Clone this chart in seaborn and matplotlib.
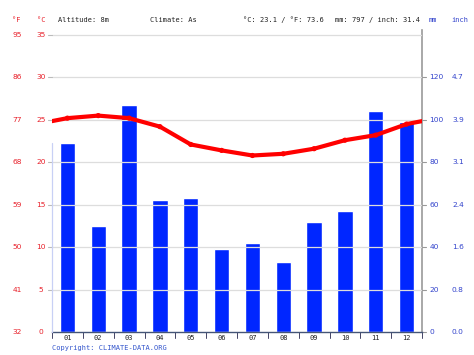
import numpy as np
import pandas as pd
import matplotlib
matplotlib.use("Agg")
import matplotlib.pyplot as plt
import seaborn as sns

months = ["01", "02", "03", "04", "05", "06", "07", "08", "09", "10", "11", "12"]
precip_mm = [89, 50, 107, 62, 63, 39, 42, 33, 52, 57, 104, 99]
temp_c = [25.2, 25.5, 25.2, 24.2, 22.1, 21.4, 20.8, 21.0, 21.6, 22.6, 23.2, 24.5]
c_ticks = [0, 5, 10, 15, 20, 25, 30, 35]
f_labels = ["32", "41", "50", "59", "68", "77", "86", "95"]
mm_ticks = [0, 20, 40, 60, 80, 100, 120]
inch_labels = ["0.0", "0.8", "1.6", "2.4", "3.1", "3.9", "4.7"]

sns.set_style("white")
plt.rcParams['font.family'] = ['DejaVu Sans Mono', 'DejaVu Sans']

fs = 5.0      # small header / label font
fs_num = 5.4  # axis numbers

fig = plt.figure(figsize=(4.74, 3.55), dpi=100)
ax = fig.add_axes([52/474, 23/355, 370/474, 302.1/355])

# precipitation bars (mm axis, 4 mm per degree)
df = pd.DataFrame({"month": months, "mm": precip_mm})
sns.barplot(data=df, x="month", y="mm", ax=ax, color="#0026ff", width=0.5,
            saturation=1, zorder=2)
ax.set_ylim(0, 35.6 * 4)
ax.set_xlim(-0.5, 11.5)

# temperature on twin axis, wrapped at the edges
ax2 = ax.twinx()
ax2.set_ylim(0, 35.6)
edge = (temp_c[0] + temp_c[-1]) / 2
xs = np.r_[-0.5, np.arange(12), 11.5]
ys = np.r_[edge, temp_c, edge]
sns.lineplot(x=xs, y=ys, ax=ax2, color="#ff0000", lw=3.0, zorder=3)
sns.scatterplot(x=np.arange(12), y=temp_c, ax=ax2, color="#ff0000", s=14,
                edgecolor="none", zorder=4)

# grid lines every 5 C
for c in c_ticks[1:]:
    ax2.axhline(c, color="#dddddd", lw=0.9, zorder=0)
    ax2.plot([-0.63, -0.5], [c, c], color="#bbbbbb", lw=0.8, clip_on=False)

ax.set_xlabel("")
ax.set_ylabel("")
ax2.set_ylabel("")
ax.set_yticks([])
ax2.set_yticks([])
ax.tick_params(axis="x", length=0, labelsize=fs, pad=2.5, colors="#222222")
for k in range(13):
    ax.plot([k - 0.5, k - 0.5], [0, -3], color="#444466", lw=0.7, clip_on=False)

for s in ["top", "left"]:
    ax.spines[s].set_visible(False)
    ax2.spines[s].set_visible(False)
ax2.spines["right"].set_visible(False)
ax.spines["right"].set_color("#999999")
ax.spines["right"].set_linewidth(1.2)
ax.spines["bottom"].set_color("#445577")
ax.spines["bottom"].set_linewidth(1.0)
ax2.spines["bottom"].set_visible(False)
ax2.plot([-0.5, -0.5], [0, 22.3], color="#c8d0f5", lw=0.9, clip_on=False)

# left tick labels: F and C
trans_l = ax2.get_yaxis_transform()
for c, f in zip(c_ticks, f_labels):
    ax2.text(-0.093, c, f, transform=trans_l, ha="center", va="center",
             fontsize=fs_num, color="#e8202a", family="DejaVu Sans")
    ax2.text(-0.03, c, str(c), transform=trans_l, ha="center", va="center",
             fontsize=fs_num, color="#e8202a", family="DejaVu Sans")

# right tick labels: mm and inch
trans_r = ax.get_yaxis_transform()
for m, inch in zip(mm_ticks, inch_labels):
    ax.plot([1.0, 1.012], [m, m], transform=trans_r, color="#999999", lw=0.8,
            clip_on=False)
    ax.text(1.02, m, str(m), transform=trans_r, ha="left", va="center",
            fontsize=fs_num, color="#3344cc", family="DejaVu Sans")
    ax.text(1.097, m, inch, transform=trans_r, ha="center", va="center",
            fontsize=fs_num, color="#3344cc", family="DejaVu Sans")

# header
hy = 1 - 20/355
fig.text(16/474, hy, "°F", fontsize=fs, color="#e8202a", ha="center", va="center")
fig.text(41/474, hy, "°C", fontsize=fs, color="#e8202a", ha="center", va="center")
fig.text(58/474, hy, "Altitude: 8m", fontsize=fs, color="#222222", va="center")
fig.text(150/474, hy, "Climate: As", fontsize=fs, color="#222222", va="center")
fig.text(243/474, hy, "°C: 23.1 / °F: 73.6", fontsize=fs, color="#222222", va="center")
fig.text(335/474, hy, "mm: 797 / inch: 31.4", fontsize=fs, color="#222222", va="center")
fig.text(433/474, hy, "mm", fontsize=fs, color="#3344cc", ha="center", va="center")
fig.text(460/474, hy, "inch", fontsize=fs, color="#3344cc", ha="center", va="center")
fig.text(52/474, 1 - 348/355, "Copyright: CLIMATE-DATA.ORG", fontsize=fs,
         color="#3355cc", va="center")

fig.savefig("out.png", dpi=100)
